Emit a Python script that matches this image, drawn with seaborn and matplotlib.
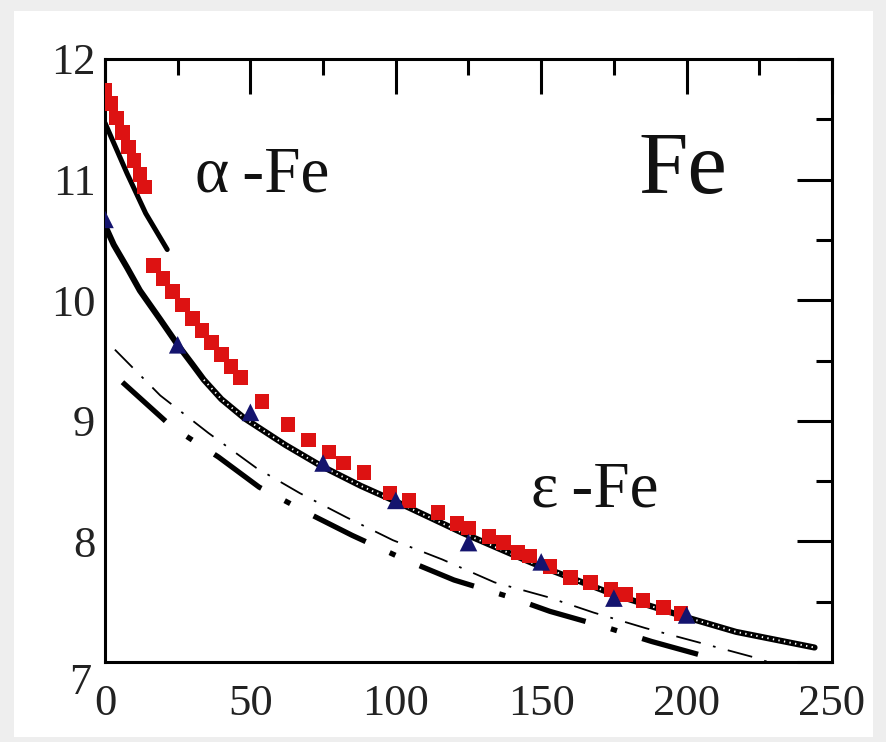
import matplotlib.pyplot as plt
import matplotlib.patches as mpatches
import pandas as pd
import seaborn as sns

# experiment (red squares): alpha phase, then epsilon phase after the transition
red_alpha_p = [0, 2, 4, 6, 8, 10, 12, 13.5]
red_alpha_v = [11.74, 11.63, 11.51, 11.39, 11.27, 11.16, 11.04, 10.94]
red_eps_p = [16.6, 20, 23.3, 26.6, 30, 33.3, 36.6, 40, 43.3, 46.6, 54, 63, 70, 77, 82, 89,
             98, 104.5, 114.5, 121, 125, 132, 137, 142, 146, 153, 160, 167, 174, 179, 185, 192, 198]
red_eps_v = [10.29, 10.18, 10.07, 9.96, 9.85, 9.75, 9.65, 9.55, 9.45, 9.36, 9.16, 8.97, 8.84, 8.74, 8.65, 8.57,
             8.40, 8.34, 8.24, 8.15, 8.11, 8.04, 7.99, 7.91, 7.88, 7.79, 7.70, 7.66, 7.60, 7.56, 7.51, 7.45, 7.40]

# blue triangles
tri_p = [0, 25, 50, 75, 100, 125, 150, 175, 200]
tri_v = [10.67, 9.63, 9.07, 8.65, 8.34, 7.99, 7.83, 7.53, 7.39]

# black solid curves
alpha_p = [0, 7.6, 14, 21.4]
alpha_v = [11.47, 11.05, 10.72, 10.42]
eps_p = [0, 3, 7.6, 12, 19, 25, 30, 34, 40, 48, 55, 62, 74, 88, 101, 123, 147, 175, 200, 217, 244]
eps_v = [10.62, 10.46, 10.27, 10.08, 9.84, 9.63, 9.47, 9.34, 9.18, 9.02, 8.91, 8.80, 8.63, 8.46,
         8.32, 8.07, 7.82, 7.56, 7.37, 7.25, 7.12]

# thin dash-dot curve
thin_p = [3.4, 19, 35.5, 52, 67, 83, 99, 116, 134, 152, 168, 186, 203, 223, 228]
thin_v = [9.59, 9.21, 8.90, 8.61, 8.40, 8.20, 8.01, 7.85, 7.66, 7.54, 7.41, 7.28, 7.17, 7.04, 7.00]

# thick dash-dot curve
thick_p = [6, 23, 39, 53, 71, 85, 103, 120, 139, 153, 172, 188, 206, 212]
thick_v = [9.32, 8.95, 8.70, 8.45, 8.22, 8.05, 7.85, 7.68, 7.54, 7.42, 7.29, 7.17, 7.05, 7.00]

xticks = [0, 50, 100, 150, 200, 250]
yticks = [7, 8, 9, 10, 11, 12]

sns.set_style("white")
plt.rcParams["font.family"] = ["Liberation Serif", "DejaVu Serif"]

fig = plt.figure(figsize=(8.87, 7.42), dpi=100)
fig.patch.set_facecolor("#eeeeee")
fig.patches.append(mpatches.Rectangle((14 / 887, 5 / 742), 859 / 887, 726 / 742,
                                      transform=fig.transFigure, facecolor="white",
                                      edgecolor="none", zorder=-10))
ax = fig.add_axes([105 / 887, 1 - 662 / 742, 727 / 887, 603 / 742])
ax.set_facecolor("white")

df = lambda p, v: pd.DataFrame({"p": p, "v": v})

sns.lineplot(data=df(alpha_p, alpha_v), x="p", y="v", color="black", lw=3.6,
             sort=False, estimator=None, ax=ax, zorder=3)
sns.lineplot(data=df(eps_p, eps_v), x="p", y="v", color="black", lw=4.4,
             sort=False, estimator=None, ax=ax, zorder=3)
sns.lineplot(data=df(eps_p[7:], eps_v[7:]), x="p", y="v", color="white", lw=1.4,
             linestyle=(0, (0.7, 2.2)), sort=False, estimator=None, ax=ax, zorder=3.5)
sns.lineplot(data=df(thin_p, thin_v), x="p", y="v", color="black", lw=1.3,
             linestyle=(0, (14, 7, 1.5, 7)), sort=False, estimator=None, ax=ax, zorder=2)
sns.lineplot(data=df(thick_p, thick_v), x="p", y="v", color="black", lw=3.8,
             linestyle=(0, (11, 5, 1.2, 5)), sort=False, estimator=None, ax=ax, zorder=2)

sns.scatterplot(data=df(red_alpha_p + red_eps_p, red_alpha_v + red_eps_v), x="p", y="v",
                marker="s", s=110, color="#dd1212", edgecolor="none", ax=ax, zorder=4)
sns.scatterplot(data=df(tri_p, tri_v), x="p", y="v", marker="^", s=160,
                color="#14146e", edgecolor="none", ax=ax, zorder=5)

ax.set_xlim(0, 250)
ax.set_ylim(7, 12)
ax.set_xticks(xticks)
ax.set_yticks(yticks)
ax.set_xticks([25, 75, 125, 175, 225], minor=True)
ax.set_yticks([7.5, 8.5, 9.5, 10.5, 11.5], minor=True)
ax.set_xticklabels([str(t) for t in xticks])
ax.set_yticklabels([""] + [str(t) for t in yticks[1:]])
ax.annotate("7", xy=(0, 7), xycoords=("axes fraction", "data"), xytext=(-10, -15),
            textcoords="offset points", ha="right", va="center", fontsize=32, color="#222222")
ax.set_xlabel("")
ax.set_ylabel("")

ax.tick_params(which="both", direction="in", top=True, right=True, width=2.2, colors="black",
               labelsize=32, labelcolor="#222222")
ax.tick_params(which="major", length=25)
ax.tick_params(which="minor", length=11.5)
ax.tick_params(axis="x", which="major", pad=16)
ax.tick_params(axis="y", which="major", pad=7)
for s in ax.spines.values():
    s.set_linewidth(2.2)
    s.set_color("black")

ax.text(31, 10.9, "α\u2009-Fe", fontsize=47, va="baseline", ha="left", color="#111111")
ax.text(146.5, 8.29, "ε\u2009-Fe", fontsize=47, va="baseline", ha="left", color="#111111")
ax.text(183.5, 10.89, "Fe", fontsize=64, va="baseline", ha="left", color="#111111")

fig.savefig("out.png", dpi=100, facecolor=fig.get_facecolor())
